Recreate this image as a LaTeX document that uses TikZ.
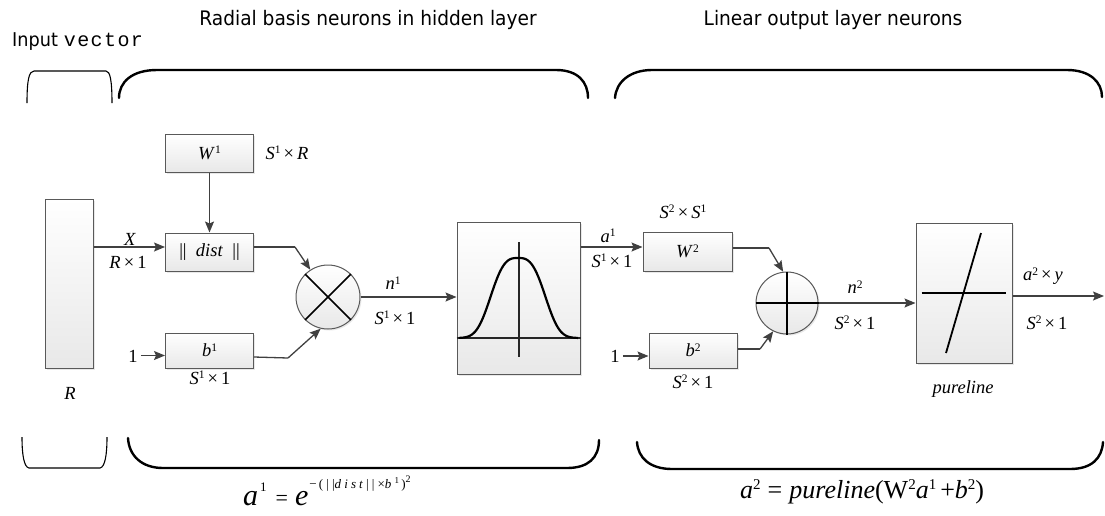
\documentclass[tikz,border=0pt]{standalone}
\usepackage{fontspec}
\setmainfont{Liberation Serif}
\newfontfamily\tfont{DejaVu Sans}[FakeStretch=0.93]
\newfontfamily\mfont{Liberation Mono}
\usetikzlibrary{arrows.meta,shadows,calc}
\newcommand{\spr}[1]{\raisebox{5.5pt}{\fontsize{11.5}{11.5}\selectfont\upshape #1}}
\newcommand{\mi}[1]{\textit{#1}}
\newcommand{\tms}{\,×\,}
\begin{document}
\begin{tikzpicture}[x=1pt,y=-1pt,
  lbl/.style={font=\fontsize{18.5}{20}\selectfont, inner sep=0pt},
  blk/.style={draw=black!65, line width=1pt, top color=white, bottom color=black!9,
     drop shadow={shadow xshift=1.5pt,shadow yshift=-1.5pt,opacity=0.18},
     inner sep=0pt, font=\fontsize{18.5}{20}\selectfont},
  circ/.style={blk, circle},
  arr/.style={draw=black!75, line width=1.3pt, -{Stealth[length=11pt,width=9pt,inset=2pt]}},
  ln/.style={draw=black!75, line width=1.3pt},
  brk/.style={line width=2.4pt, line cap=round},
  thinbrk/.style={line width=1.1pt},
  ttl/.style={font=\tfont\fontsize{20}{22}\selectfont, inner sep=0pt, anchor=base}
]
\useasboundingbox (0,0) rectangle (1105,515);

% titles
\node[ttl] (t1) at (368,25) {Radial basis neurons in hidden layer};
\node[ttl] (t2) at (833,25) {Linear output layer neurons};
\node[inner sep=0pt, anchor=base west] (t0) at (12,46) {{\tfont\fontsize{19}{20}\selectfont Input}\hspace{6pt}{\mfont\fontsize{20}{20}\selectfont\addfontfeatures{LetterSpace=7}vector}};

% brackets
\draw[thinbrk] (27,103) .. controls (27,80) and (29,71) .. (34,71) -- (106,71) .. controls (110,71) and (112,80) .. (112,103);
\draw[thinbrk] (22,437) .. controls (22,455) and (24,467) .. (29,468) -- (100,468) .. controls (105,467) and (107,455) .. (107,437);
\draw[brk] (119,98) .. controls (119,82) and (132,70) .. (157,70) -- (556,70) .. controls (578,70) and (588,82) .. (588,98);
\draw[brk] (615,98) .. controls (616,82) and (630,70) .. (652,70) -- (1067,70) .. controls (1090,70) and (1102,82) .. (1102,97);
\draw[brk] (128,438) .. controls (129,456) and (142,468) .. (163,468) -- (567,468) .. controls (588,468) and (599,458) .. (599,440);
\draw[brk] (637,442) .. controls (638,458) and (650,469) .. (672,469) -- (1070,469) .. controls (1092,469) and (1102,458) .. (1103,442);

% blocks
\node[blk, minimum width=48pt, minimum height=169pt] (R) at (69,283.5) {};
\node[blk, minimum width=88pt, minimum height=38pt] (W1) at (209.5,153) {\mi{W}\spr{1}};
\node[blk, minimum width=88pt, minimum height=38pt] (dist) at (209.5,252) {||\ \ \mi{dist}\ \ ||};
\node[blk, minimum width=88pt, minimum height=35pt] (b1) at (209.5,350.5) {\mi{b}\spr{1}};
\node[circ, minimum size=64pt] (mul) at (328,297) {};
\node[blk, minimum width=123pt, minimum height=152pt] (g) at (518.5,298) {};
\node[blk, minimum width=89pt, minimum height=39pt] (W2) at (687.5,251.5) {\mi{W}\spr{2}};
\node[blk, minimum width=88pt, minimum height=35pt] (b2) at (693,350.5) {\mi{b}\spr{2}};
\node[circ, minimum size=62pt] (plus) at (787,303) {};
\node[blk, minimum width=96pt, minimum height=140pt] (pl) at (964,293) {};

% symbols inside
\draw[line width=1.6pt] (mul.45) -- (mul.225) (mul.135) -- (mul.315);
\draw[line width=1.6pt] (plus.west) -- (plus.east) (plus.north) -- (plus.south);
\draw[line width=1.3pt, black!85] (g.west |- 0,338) -- (g.east |- 0,338);
\draw[line width=1.3pt, black!85] (519,242) -- (519,357);
\draw[line width=2.2pt, line join=round] plot[domain=459:578, samples=90, smooth]
   (\x, {338-80*exp(-(abs(\x-518)/31.5)^3)});
\draw[line width=1.8pt] (pl.west |- 0,293) ++(6,0) -- ($(pl.east |- 0,293)+(-7,0)$);
\draw[line width=1.8pt] (981,233) -- (946,353);

% connectors
\coordinate (xin) at ([yshift=5pt]dist.west);
\draw[arr] (xin -| R.east) -- (xin);
\draw[arr] (W1.south) -- (dist.north);
\coordinate (dout) at ([yshift=5pt]dist.east);
\coordinate (dk) at (295,247);
\draw[ln] (dout) -- (dk);
\draw[arr] (dk) -- (mul.123);
\node[lbl] (one1) at (133,356) {1};
\coordinate (b1in) at ([yshift=-5pt]b1.west);
\draw[arr] (one1.east |- b1in) ++(3,0) -- (b1in);
\coordinate (b1out) at ([yshift=-6.5pt]b1.east);
\coordinate (bk) at (288,358);
\draw[ln] (b1out) -- (bk);
\draw[arr] (bk) -- (mul.257);
\draw[arr] (mul.east) -- (mul.east -| g.west);
\coordinate (a1in) at ([yshift=4.5pt]W2.west);
\draw[arr] (a1in -| g.east) -- (a1in);
\coordinate (w2out) at ([yshift=3.5pt]W2.east);
\coordinate (wk) at (769,248);
\draw[ln] (w2out) -- (wk);
\draw[arr] (wk) -- (plus.97);
\node[lbl] (one2) at (615,356) {1};
\coordinate (b2in) at ([yshift=-5.5pt]b2.west);
\draw[arr] (one2.east |- b2in) ++(3,0) -- (b2in);
\coordinate (b2out) at ([yshift=1.5pt]b2.east);
\coordinate (bk2) at (760,349);
\draw[ln] (b2out) -- (bk2);
\draw[arr] (bk2) -- (plus.244);
\draw[arr] (plus.east) -- (plus.east -| pl.west);
\coordinate (plout) at ([yshift=-3pt]pl.east);
\coordinate (out) at (1104,296);
\draw[arr] (plout) -- (out);

% labels
\node[lbl] (lX) at (130,239) {\mi{X}};
\node[lbl] (lR1) at (128,262) {\mi{R}\tms1};
\node[lbl] (lW1) at (287,153) {\mi{S}\spr{1}\tms\mi{R}};
\node[lbl] (ln1) at (393,283) {\mi{n}\spr{1}};
\node[lbl] (ls1) at (395,318) {\mi{S}\spr{1}\tms1};
\node[lbl] (lb1) at (210,378) {\mi{S}\spr{1}\tms1};
\node[lbl] (lR) at (70,393) {\mi{R}};
\node[lbl] (la1) at (608,236) {\mi{a}\spr{1}};
\node[lbl] (la1s) at (612,261) {\mi{S}\spr{1}\tms1};
\node[lbl] (lW2) at (683,212) {\mi{S}\spr{2}\tms\mi{S}\spr{1}};
\node[lbl] (lb2) at (693,382) {\mi{S}\spr{2}\tms1};
\node[lbl] (ln2) at (855,287) {\mi{n}\spr{2}};
\node[lbl] (ln2s) at (855,323) {\mi{S}\spr{2}\tms1};
\node[lbl] (la2) at (1043,276) {\mi{a}\spr{2}\tms\mi{y}};
\node[lbl] (la2s) at (1047,323) {\mi{S}\spr{2}\tms1};
\node[lbl] (lpl) at (963,389) {\mi{pureline}};

% formulas
\node[inner sep=0pt, anchor=base west] (f1) at (243,505) {{\fontsize{30}{32}\selectfont\itshape a}\hspace{2pt}\raisebox{14pt}{\fontsize{13}{13}\selectfont 1}\hspace{9pt}{\fontsize{22}{24}\selectfont =}\hspace{7pt}{\fontsize{30}{32}\selectfont\itshape e}\hspace{1pt}\raisebox{17pt}{\fontsize{13}{13}\selectfont\addfontfeatures{LetterSpace=24}−\,(||\textit{dist}||×\textit{b}\raisebox{5pt}{\fontsize{9}{9}\selectfont 1}\,)\raisebox{6pt}{\fontsize{10}{10}\selectfont 2}}};
\node[inner sep=0pt, anchor=base west] (f2) at (740,498) {\fontsize{26}{28}\selectfont\itshape a\raisebox{9pt}{\fontsize{15}{15}\selectfont\upshape 2}\hspace{7pt}\upshape=\hspace{7pt}\itshape pureline\upshape(W\raisebox{9pt}{\fontsize{15}{15}\selectfont 2}\itshape a\raisebox{9pt}{\fontsize{15}{15}\selectfont\upshape 1}\upshape\hspace{4pt}+\itshape b\raisebox{9pt}{\fontsize{15}{15}\selectfont\upshape 2}\upshape)};
\end{tikzpicture}
\end{document}
